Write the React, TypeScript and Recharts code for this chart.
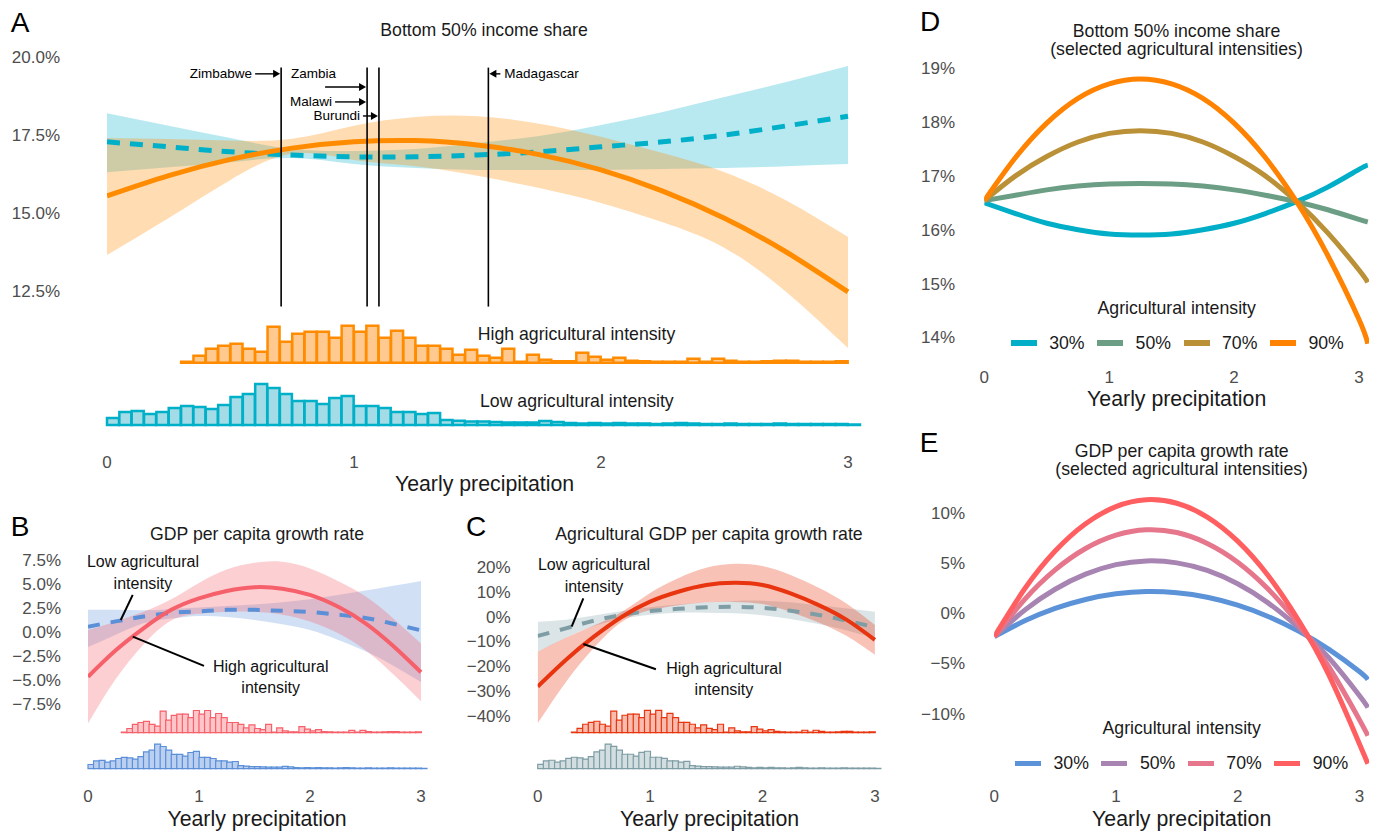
import type { ReactNode } from 'react'
import {
  ComposedChart, Line, Area, Bar, XAxis, YAxis, ReferenceLine, ReferenceDot,
} from 'recharts'

const FONT = '"Liberation Sans", Arial, Helvetica, sans-serif'
const TICK = { fontSize: 17, fill: '#4d4d4d', fontFamily: FONT }

// precipitation points where the fitted curves were read
const precip = [0, 0.25, 0.5, 0.75, 1, 1.25, 1.5, 1.75, 2, 2.25, 2.5, 2.75, 3]
const precipLong = [0, 0.25, 0.5, 0.75, 1, 1.25, 1.5, 1.75, 2, 2.25, 2.5, 2.75, 3, 3.07]

// A: bottom 50% income share (%)
const incomeHigh = [15.55, 16.2, 16.72, 17.08, 17.28, 17.32, 17.18, 16.87, 16.38, 15.7, 14.83, 13.75, 12.47]
const incomeHighLo = [13.65, 14.84, 16.06, 16.9, 16.7, 16.5, 16.19, 15.8, 15.32, 14.7, 13.88, 12.47, 10.67]
const incomeHighHi = [17.4, 17.37, 17.32, 17.38, 17.8, 18.08, 18.1, 17.86, 17.44, 16.92, 16.31, 15.4, 14.23]
const incomeLow = [17.28, 17.12, 16.96, 16.86, 16.8, 16.8, 16.86, 16.96, 17.12, 17.28, 17.5, 17.79, 18.1]
const incomeLowLo = [16.31, 16.47, 16.63, 16.76, 16.57, 16.44, 16.38, 16.38, 16.38, 16.41, 16.44, 16.5, 16.57]
const incomeLowHi = [18.2, 17.8, 17.4, 17.05, 16.99, 17.05, 17.24, 17.47, 17.82, 18.24, 18.72, 19.2, 19.71]

// B: GDP per capita growth rate (%)
const gdpHigh = [-4.65, -1.9, 0.38, 2.3, 3.5, 4.26, 4.65, 4.5, 3.85, 2.64, 0.9, -1.46, -4.19]
const gdpHighLo = [-9.5, -4.9, -1.3, 1.2, 1.9, 2.1, 2.1, 1.8, 1.1, -0.1, -1.9, -4.4, -7.2]
const gdpHighHi = [0.2, 1.1, 2.1, 3.4, 5.1, 6.5, 7.2, 7.3, 6.6, 5.3, 3.7, 1.4, -1.2]
const gdpLow = [0.55, 1.1, 1.6, 1.98, 2.15, 2.3, 2.3, 2.2, 2.08, 1.8, 1.46, 0.85, 0.17]
const gdpLowLo = [-1.56, -0.3, 0.9, 1.4, 1.65, 1.55, 1.25, 0.8, 0.2, -0.8, -2.0, -3.5, -5.2]
const gdpLowHi = [2.32, 2.3, 2.25, 2.4, 2.55, 2.7, 2.85, 3.1, 3.4, 3.85, 4.3, 4.8, 5.3]

// C: agricultural GDP per capita growth rate (%)
const agHigh = [-28.3, -17.5, -8.1, 0, 6.1, 10.1, 12.8, 13.7, 12.8, 9.4, 4.7, -1.3, -9.4]
const agHighLo = [-43.1, -26.5, -12.6, -2, 2.6, 4.6, 5.8, 6, 5.1, 1.9, -2.3, -7.8, -15.4]
const agHighHi = [-14.2, -8.5, -3.6, 2, 9.6, 15.6, 19.8, 21.4, 20.5, 16.9, 11.7, 5.2, -3.4]
const agLow = [-7.8, -4.7, -1.6, 0.7, 2.3, 3.2, 3.8, 4.0, 3.6, 2.4, 0.7, -1.6, -4.3]
const agLowLo = [-14.2, -8.5, -3.8, -0.8, 0.8, 1.6, 1.6, 1.4, 0.6, -0.9, -3, -5.6, -8.8]
const agLowHi = [-2, -1.2, 0.5, 2.3, 3.8, 4.9, 5.8, 6.4, 6.5, 5.8, 4.6, 3.3, 2]

// D: income share at selected intensities
const intensityLabels = ['30%', '50%', '70%', '90%']
const share30 = [16.5, 16.3, 16.12, 16.0, 15.92, 15.9, 15.92, 16.0, 16.12, 16.3, 16.52, 16.79, 17.12, 17.2]
const share50 = [16.54, 16.64, 16.74, 16.81, 16.85, 16.86, 16.85, 16.81, 16.74, 16.64, 16.52, 16.37, 16.19, 16.14]
const share70 = [16.54, 17.0, 17.36, 17.63, 17.79, 17.84, 17.79, 17.63, 17.36, 17.0, 16.52, 15.94, 15.25, 15.02]
const share90 = [16.54, 17.34, 17.98, 18.44, 18.71, 18.8, 18.71, 18.44, 17.98, 17.34, 16.52, 15.52, 14.33, 13.88]

// E: GDP growth at selected intensities
const growth30 = [-2.32, -0.75, 0.49, 1.38, 1.94, 2.17, 2.05, 1.6, 0.81, -0.32, -1.78, -3.59, -5.8, -6.6]
const growth50 = [-2.33, 0.32, 2.4, 3.9, 4.85, 5.22, 5.03, 4.27, 2.94, 1.04, -1.42, -4.45, -8.2, -9.4]
const growth70 = [-2.34, 1.39, 4.33, 6.46, 7.79, 8.32, 8.05, 6.97, 5.1, 2.42, -1.05, -5.34, -10.6, -12.2]
const growth90 = [-2.33, 2.45, 6.21, 8.93, 10.64, 11.32, 10.97, 9.59, 7.19, 3.76, -0.69, -6.17, -13.0, -15.0]

// histograms of observations, bins of 0.05 from 0 to 3.05
const lowCounts = [
  7, 13, 14, 11, 13, 17, 19, 18, 16, 20, 28, 31, 41, 37, 31, 24, 24, 21, 27, 29,
  19, 19, 17, 13, 13, 11, 12, 5, 4.3, 3.5, 3.5, 3, 2.5, 2.5, 2.5, 4, 3, 2, 1.5, 2,
  1.5, 2, 1.5, 1.5, 1, 1.5, 2, 1.5, 1, 1, 1.5, 1, 1, 1, 1.5, 1, 1, 1, 1, 1, 0.5,
]
const highCounts = [
  null, null, null, null, null, null, 1, 7, 14, 17, 19, 14, 11, 36, 21, 29, 31, 31, 25, 37,
  31, 37, 25, 32, 25, 17, 17, 14, 8, 13, 7, 5, 14, 1, 8, 3, 1.5, 1.5, 10, 6,
  3, 5, 2, 1.5, 1, 1, 1, 4, 1, 4, 2, 1, 1, 1.5, 2, 2, 1, 1, 1, 1.5, null,
]

// country markers in panel A
const countryNames = ['Zimbabwe', 'Zambia', 'Malawi', 'Burundi', 'Madagascar']
const countryPrecip = [0.705, 1.053, 1.053, 1.101, 1.544]
const countryArrowY = [19.46, 19.04, 18.56, 18.11, 19.46]
const markerLines = [0.705, 1.053, 1.101, 1.544]

const histRows = lowCounts.map((c, i) => ({ bin: i, low: c, high: highCounts[i] }))

const minus = (s: string) => s.replace('-', '\u2212')

type Series = { mid: number[]; lo: number[]; hi: number[]; color: string; fill: string }
type Spec = {
  left: number; top: number; width: number; height: number
  marginTop: number; marginRight: number; plotLeft: number
  xAxisHeight: number; xTickMargin: number; yTickMargin: number
  yDomain: [number, number]; yTicks: number[]; yFormat: (v: number) => string
  low: Series; high: Series; lineWidth: number; dash: string
  k: number; lowBase: number; highBase: number; histStroke: number
}

function BandChart({ spec, children }: { spec: Spec; children?: ReactNode }) {
  const plotH = spec.height - spec.marginTop - spec.xAxisHeight
  const rows = precip.map((p, i) => ({
    p,
    low: spec.low.mid[i],
    lowBand: [spec.low.lo[i], spec.low.hi[i]],
    high: spec.high.mid[i],
    highBand: [spec.high.lo[i], spec.high.hi[i]],
  }))
  const lowDom = [-spec.lowBase / spec.k, (plotH - spec.lowBase) / spec.k]
  const highDom = [-spec.highBase / spec.k, (plotH - spec.highBase) / spec.k]
  return (
    <div style={{ position: 'absolute', left: spec.left, top: spec.top }}>
      <ComposedChart
        width={spec.width}
        height={spec.height}
        data={histRows}
        margin={{ top: spec.marginTop, right: spec.marginRight, bottom: 0, left: 0 }}
        barCategoryGap={0}
        barGap={0}
      >
        <XAxis
          xAxisId="num" type="number" dataKey="p" domain={[0, 3.05]} ticks={[0, 1, 2, 3]}
          allowDataOverflow axisLine={false} tickLine={false} tickSize={0} interval={0}
          tickMargin={spec.xTickMargin} height={spec.xAxisHeight} tick={TICK}
        />
        <XAxis xAxisId="h1" type="category" dataKey="bin" hide height={0} />
        <XAxis xAxisId="h2" type="category" dataKey="bin" hide height={0} />
        <YAxis
          yAxisId="main" type="number" domain={spec.yDomain} ticks={spec.yTicks} interval={0}
          allowDataOverflow width={spec.plotLeft} axisLine={false} tickLine={false}
          tickSize={0} tickMargin={spec.yTickMargin} tick={TICK} tickFormatter={spec.yFormat}
        />
        <YAxis yAxisId="yl" type="number" hide width={0} domain={lowDom} allowDataOverflow />
        <YAxis yAxisId="yh" type="number" hide width={0} domain={highDom} allowDataOverflow />
        <Bar
          xAxisId="h2" yAxisId="yl" dataKey="low" fill={spec.low.fill}
          stroke={spec.low.color} strokeWidth={spec.histStroke} isAnimationActive={false}
        />
        <Bar
          xAxisId="h1" yAxisId="yh" dataKey="high" fill={spec.high.fill}
          stroke={spec.high.color} strokeWidth={spec.histStroke} isAnimationActive={false}
        />
        <Area
          xAxisId="num" yAxisId="main" data={rows} dataKey="lowBand" type="natural"
          stroke="none" fill={spec.low.color} fillOpacity={0.28} activeDot={false}
          isAnimationActive={false}
        />
        <Line
          xAxisId="num" yAxisId="main" data={rows} dataKey="low" type="natural"
          stroke={spec.low.color} strokeWidth={spec.lineWidth} strokeDasharray={spec.dash}
          dot={false} activeDot={false} isAnimationActive={false}
        />
        <Area
          xAxisId="num" yAxisId="main" data={rows} dataKey="highBand" type="natural"
          stroke="none" fill={spec.high.color} fillOpacity={0.3} activeDot={false}
          isAnimationActive={false}
        />
        <Line
          xAxisId="num" yAxisId="main" data={rows} dataKey="high" type="natural"
          stroke={spec.high.color} strokeWidth={spec.lineWidth}
          dot={false} activeDot={false} isAnimationActive={false}
        />
        {children}
      </ComposedChart>
    </div>
  )
}

type LineSpec = {
  left: number; top: number; width: number; height: number
  marginTop: number; marginRight: number; plotLeft: number
  xAxisHeight: number; xTickMargin: number; yTickMargin: number
  yDomain: [number, number]; yTicks: number[]; yFormat: (v: number) => string
  series: number[][]; colors: string[]
}

function LinesChart({ spec }: { spec: LineSpec }) {
  const rows = precipLong.map((p, i) => {
    const r: Record<string, number> = { p }
    spec.series.forEach((s, j) => { r['s' + j] = s[i] })
    return r
  })
  return (
    <div style={{ position: 'absolute', left: spec.left, top: spec.top }}>
      <ComposedChart
        width={spec.width}
        height={spec.height}
        data={rows}
        margin={{ top: spec.marginTop, right: spec.marginRight, bottom: 0, left: 0 }}
      >
        <XAxis
          type="number" dataKey="p" domain={[0, 3.08]} ticks={[0, 1, 2, 3]} allowDataOverflow
          axisLine={false} tickLine={false} tickSize={0} tickMargin={spec.xTickMargin} interval={0}
          height={spec.xAxisHeight} tick={TICK}
        />
        <YAxis
          type="number" domain={spec.yDomain} ticks={spec.yTicks} allowDataOverflow interval={0}
          width={spec.plotLeft} axisLine={false} tickLine={false} tickSize={0}
          tickMargin={spec.yTickMargin} tick={TICK} tickFormatter={spec.yFormat}
        />
        {spec.series.map((_, j) => (
          <Line
            key={j} dataKey={'s' + j} type="natural" stroke={spec.colors[j]} strokeWidth={5}
            dot={false} activeDot={false} isAnimationActive={false}
          />
        ))}
      </ComposedChart>
    </div>
  )
}

function Txt({ x, y, size, children, color = '#1a1a1a', anchor = 'center' }: {
  x: number; y: number; size: number; children: ReactNode; color?: string; anchor?: 'center' | 'left'
}) {
  return (
    <div
      style={{
        position: 'absolute', left: x, top: y, fontSize: size, color, lineHeight: 1,
        whiteSpace: 'nowrap', transform: anchor === 'center' ? 'translate(-50%, -50%)' : 'translate(0, -50%)',
      }}
    >
      {children}
    </div>
  )
}

function IntensityLegend({ x, y, colors }: { x: number; y: number; colors: string[] }) {
  return (
    <div style={{ position: 'absolute', left: x, top: y - 12, height: 24, display: 'flex', alignItems: 'center' }}>
      {intensityLabels.map((lab, i) => (
        <div key={lab} style={{ display: 'flex', alignItems: 'center', marginRight: 12.5 }}>
          <div style={{ width: 26, height: 5.5, background: colors[i], marginRight: 12.5 }} />
          <span style={{ fontSize: 17.7, color: '#1a1a1a' }}>{lab}</span>
        </div>
      ))}
    </div>
  )
}

const arrowShape = (name: string, kind: string, len: number) => (props: any) => {
  const { cx, cy } = props
  const fs = 13.5
  if (kind === 'left') {
    return (
      <g>
        <line x1={cx + 6} y1={cy} x2={cx + len} y2={cy} stroke="#000" strokeWidth={1.4} />
        <polygon points={`${cx + 8},${cy - 4} ${cx + 1},${cy} ${cx + 8},${cy + 4}`} fill="#000" />
        <text x={cx + len + 4} y={cy} dominantBaseline="central" fontSize={fs} fontFamily={FONT} fill="#000">{name}</text>
      </g>
    )
  }
  return (
    <g>
      <line x1={cx - len} y1={cy} x2={cx - 6} y2={cy} stroke="#000" strokeWidth={1.4} />
      <polygon points={`${cx - 8},${cy - 4} ${cx - 1},${cy} ${cx - 8},${cy + 4}`} fill="#000" />
      {kind === 'above' ? (
        <text x={cx - 76} y={cy - 13} dominantBaseline="central" fontSize={fs} fontFamily={FONT} fill="#000">{name}</text>
      ) : (
        <text x={cx - len - 3} y={cy} textAnchor="end" dominantBaseline="central" fontSize={fs} fontFamily={FONT} fill="#000">{name}</text>
      )}
    </g>
  )
}

const twoLineLabel = (lines: string[]) => (props: any) => {
  const { cx, cy } = props
  return (
    <g>
      <text x={cx} y={cy - 10.8} textAnchor="middle" dominantBaseline="central" fontSize={16} fontFamily={FONT} fill="#111">{lines[0]}</text>
      <text x={cx} y={cy + 10.8} textAnchor="middle" dominantBaseline="central" fontSize={16} fontFamily={FONT} fill="#111">{lines[1]}</text>
    </g>
  )
}

const arrowKinds = ['right', 'above', 'right', 'right', 'left']
const arrowLens = [26, 42, 32, 16, 12]

export default function App() {
  const specA: Spec = {
    left: 0, top: 0, width: 880, height: 500, marginTop: 57, marginRight: 19.65, plotLeft: 107,
    xAxisHeight: 68.6, xTickMargin: 24.6, yTickMargin: 47,
    yDomain: [8, 20], yTicks: [12.5, 15, 17.5, 20], yFormat: v => v.toFixed(1) + '%',
    low: { mid: incomeLow, lo: incomeLowLo, hi: incomeLowHi, color: '#00AFC8', fill: '#A3DCE6' },
    high: { mid: incomeHigh, lo: incomeHighLo, hi: incomeHighHi, color: '#FF8C00', fill: '#FFC98F' },
    lineWidth: 5, dash: '13 10', k: 1, lowBase: 6.4, highBase: 68.7, histStroke: 2.5,
  }
  const specB: Spec = {
    left: 0, top: 510, width: 440, height: 322, marginTop: 45, marginRight: 13.45, plotLeft: 88,
    xAxisHeight: 55.7, xTickMargin: 13.7, yTickMargin: 27,
    yDomain: [-15, 8], yTicks: [-7.5, -5, -2.5, 0, 2.5, 5, 7.5], yFormat: v => minus(v.toFixed(1)) + '%',
    low: { mid: gdpLow, lo: gdpLowLo, hi: gdpLowHi, color: '#5B8FD8', fill: '#BBD0F0' },
    high: { mid: gdpHigh, lo: gdpHighLo, hi: gdpHighHi, color: '#F6606A', fill: '#FFC6CA' },
    lineWidth: 4, dash: '12 11', k: 0.6, lowBase: 7.6, highBase: 43.6, histStroke: 1.2,
  }
  const specC: Spec = {
    left: 440, top: 510, width: 450, height: 322, marginTop: 44.95, marginRight: 9.5, plotLeft: 97.7,
    xAxisHeight: 55.75, xTickMargin: 13.7, yTickMargin: 27,
    yDomain: [-64.6, 25], yTicks: [-40, -30, -20, -10, 0, 10, 20], yFormat: v => minus(String(v)) + '%',
    low: { mid: agLow, lo: agLowLo, hi: agLowHi, color: '#7F9DA5', fill: '#D3DEE1' },
    high: { mid: agHigh, lo: agHighLo, hi: agHighHi, color: '#E8340F', fill: '#F8BCAE' },
    lineWidth: 4, dash: '12 11', k: 0.6, lowBase: 7.6, highBase: 43.6, histStroke: 1.2,
  }
  const colorsD = ['#00AEC7', '#6B9E84', '#BB9138', '#FF8200']
  const colorsE = ['#5B92D8', '#A784B2', '#E5768B', '#FF5F60']
  const specD: LineSpec = {
    left: 890, top: 0, width: 491, height: 415, marginTop: 54.8, marginRight: 12, plotLeft: 94.3,
    xAxisHeight: 56.2, xTickMargin: 12.2, yTickMargin: 29.3,
    yDomain: [13.6, 19.25], yTicks: [14, 15, 16, 17, 18, 19], yFormat: v => v + '%',
    series: [share30, share50, share70, share90], colors: colorsD,
  }
  const specE: LineSpec = {
    left: 890, top: 415, width: 491, height: 417, marginTop: 67.9, marginRight: 11.9, plotLeft: 104.3,
    xAxisHeight: 58.2, xTickMargin: 16.2, yTickMargin: 29.3,
    yDomain: [-16, 13], yTicks: [-10, -5, 0, 5, 10], yFormat: v => minus(String(v)) + '%',
    series: [growth30, growth50, growth70, growth90], colors: colorsE,
  }

  const ax = { xAxisId: 'num', yAxisId: 'main' }

  return (
    <div style={{ position: 'absolute', left: 0, top: 0, width: 1381, height: 832, background: '#fff', fontFamily: FONT, overflow: 'hidden' }}>
      <BandChart spec={specA}>
        {markerLines.map(p => (
          <ReferenceLine key={p} {...ax} segment={[{ x: p, y: 19.66 }, { x: p, y: 12.0 }]} stroke="#000" strokeWidth={1.6} ifOverflow="visible" />
        ))}
        {countryNames.map((n, i) => (
          <ReferenceDot
            key={n} {...ax} x={countryPrecip[i]} y={countryArrowY[i]} r={0} ifOverflow="visible"
            shape={arrowShape(n, arrowKinds[i], arrowLens[i])}
          />
        ))}
      </BandChart>
      <BandChart spec={specB}>
        <ReferenceLine {...ax} segment={[{ x: 0.403, y: 3.85 }, { x: 0.295, y: 1.25 }]} stroke="#000" strokeWidth={2} ifOverflow="visible" />
        <ReferenceLine {...ax} segment={[{ x: 1.045, y: -3.53 }, { x: 0.403, y: -0.49 }]} stroke="#000" strokeWidth={2} ifOverflow="visible" />
        <ReferenceDot {...ax} x={0.495} y={6.2} r={0} ifOverflow="visible" shape={twoLineLabel(['Low agricultural', 'intensity'])} />
        <ReferenceDot {...ax} x={1.646} y={-4.66} r={0} ifOverflow="visible" shape={twoLineLabel(['High agricultural', 'intensity'])} />
      </BandChart>
      <BandChart spec={specC}>
        <ReferenceLine {...ax} segment={[{ x: 0.406, y: 7.45 }, { x: 0.302, y: -4.05 }]} stroke="#000" strokeWidth={2} ifOverflow="visible" />
        <ReferenceLine {...ax} segment={[{ x: 1.052, y: -21.3 }, { x: 0.406, y: -11.05 }]} stroke="#000" strokeWidth={2} ifOverflow="visible" />
        <ReferenceDot {...ax} x={0.501} y={16.6} r={0} ifOverflow="visible" shape={twoLineLabel(['Low agricultural', 'intensity'])} />
        <ReferenceDot {...ax} x={1.657} y={-25.3} r={0} ifOverflow="visible" shape={twoLineLabel(['High agricultural', 'intensity'])} />
      </BandChart>
      <LinesChart spec={specD} />
      <LinesChart spec={specE} />

      <Txt x={20} y={23} size={28} color="#000">A</Txt>
      <Txt x={20} y={527} size={28} color="#000">B</Txt>
      <Txt x={476} y={527} size={28} color="#000">C</Txt>
      <Txt x={930} y={22} size={28} color="#000">D</Txt>
      <Txt x={929} y={443} size={28} color="#000">E</Txt>

      <Txt x={484} y={31} size={17.7}>Bottom 50% income share</Txt>
      <Txt x={257} y={535} size={17.7}>GDP per capita growth rate</Txt>
      <Txt x={709} y={535} size={17.7}>Agricultural GDP per capita growth rate</Txt>
      <Txt x={1176.5} y={31.7} size={17.7}>Bottom 50% income share</Txt>
      <Txt x={1176.5} y={50} size={17.7}>(selected agricultural intensities)</Txt>
      <Txt x={1181.7} y={451.7} size={17.7}>GDP per capita growth rate</Txt>
      <Txt x={1181.7} y={470} size={17.7}>(selected agricultural intensities)</Txt>

      <Txt x={484.5} y={485} size={21.3}>Yearly precipitation</Txt>
      <Txt x={257} y={820} size={21.3}>Yearly precipitation</Txt>
      <Txt x={709.5} y={820} size={21.3}>Yearly precipitation</Txt>
      <Txt x={1176.7} y={400} size={21.3}>Yearly precipitation</Txt>
      <Txt x={1181.7} y={820} size={21.3}>Yearly precipitation</Txt>

      <Txt x={477.7} y={335} size={17.7} anchor="left">High agricultural intensity</Txt>
      <Txt x={480} y={402} size={17.7} anchor="left">Low agricultural intensity</Txt>

      <Txt x={1176.7} y={309} size={17.7}>Agricultural intensity</Txt>
      <IntensityLegend x={1010.7} y={343} colors={colorsD} />
      <Txt x={1181.7} y={729} size={17.7}>Agricultural intensity</Txt>
      <IntensityLegend x={1015} y={763.3} colors={colorsE} />
    </div>
  )
}
